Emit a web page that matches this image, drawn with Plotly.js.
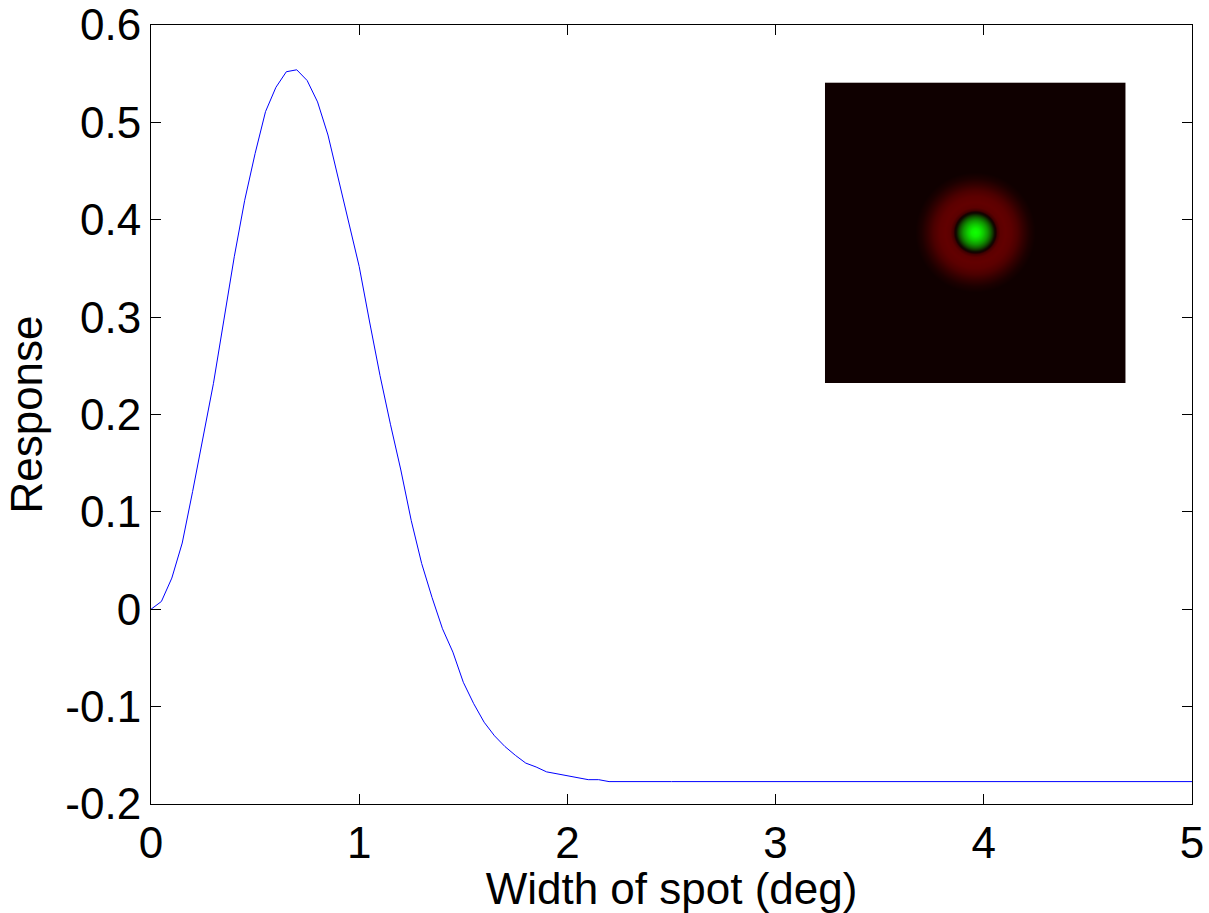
<!DOCTYPE html>
<html>
<head>
<meta charset="utf-8">
<script src="https://cdn.plot.ly/plotly-3.0.1.min.js"></script>
<style>
html,body{margin:0;padding:0;background:#fff;}
#chart{width:1209px;height:913px;}
</style>
</head>
<body>
<div id="chart"></div>
<script>
// ---- curve data ----
var spotWidth = [0, 0.05, 0.1, 0.15, 0.2, 0.25, 0.3, 0.35, 0.4, 0.45, 0.5, 0.55, 0.6, 0.65, 0.7, 0.75, 0.8, 0.85, 0.9, 0.95,
  1.0, 1.05, 1.1, 1.15, 1.2, 1.25, 1.3, 1.35, 1.4, 1.45, 1.5, 1.55, 1.6, 1.65, 1.7, 1.75, 1.8, 1.85, 1.9, 1.95,
  2.0, 2.05, 2.1, 2.15, 2.2, 2.5, 3.0, 3.5, 4.0, 4.5, 5.0];
var response = [0.000, 0.008, 0.032, 0.068, 0.121, 0.176, 0.232, 0.297, 0.362, 0.420, 0.468, 0.511, 0.536, 0.552, 0.554, 0.543, 0.521, 0.487, 0.443, 0.396,
  0.352, 0.295, 0.240, 0.190, 0.143, 0.091, 0.047, 0.012, -0.020, -0.044, -0.075, -0.097, -0.116, -0.130, -0.141, -0.150, -0.158, -0.162, -0.167, -0.169,
  -0.171, -0.173, -0.175, -0.175, -0.177, -0.177, -0.177, -0.177, -0.177, -0.177, -0.177];

// ---- tick labels ----
var xTickVals = [0, 1, 2, 3, 4, 5];
var xTickText = ["0", "1", "2", "3", "4", "5"];
var yTickVals = [-0.2, -0.1, 0, 0.1, 0.2, 0.3, 0.4, 0.5, 0.6];
var yTickText = ["-0.2", "-0.1", "0", "0.1", "0.2", "0.3", "0.4", "0.5", "0.6"];

// ---- inset stimulus: radial colour profile (radius in inset pixels) ----
var insetRadius = [0, 4, 8, 12, 15, 17, 19, 20.5, 22, 25, 30, 36, 42, 48, 54, 60];
var insetRed    = [0, 0, 0, 0, 0, 2, 8, 25, 65, 92, 98, 92, 75, 50, 28, 15];
var insetGreen  = [255, 240, 200, 150, 100, 60, 15, 0, 0, 0, 0, 0, 0, 0, 0, 0];
var insetBg = [15, 0, 0];
var insetSize = 301;

function profile(arr, r) {
  if (r >= insetRadius[insetRadius.length - 1]) return null;
  for (var i = 1; i < insetRadius.length; i++) {
    if (r <= insetRadius[i]) {
      var t = (r - insetRadius[i - 1]) / (insetRadius[i] - insetRadius[i - 1]);
      return arr[i - 1] + t * (arr[i] - arr[i - 1]);
    }
  }
  return null;
}
var c = (insetSize - 1) / 2;
var img = [];
for (var j = 0; j < insetSize; j++) {
  var row = [];
  for (var i = 0; i < insetSize; i++) {
    var r = Math.sqrt((i - c) * (i - c) + (j - c) * (j - c));
    var rv = profile(insetRed, r), gv = profile(insetGreen, r);
    if (rv === null) row.push(insetBg.slice());
    else row.push([Math.max(insetBg[0], Math.round(rv)), Math.round(gv), 0]);
  }
  img.push(row);
}

var font = "Liberation Sans, Arial, Helvetica, sans-serif";
var fs = 44;

var traces = [
  {
    type: "scatter", mode: "lines",
    x: spotWidth, y: response,
    line: {color: "#0000ff", width: 1},
    hoverinfo: "x+y", showlegend: false
  },
  {
    type: "image", z: img, xaxis: "x2", yaxis: "y2",
    hoverinfo: "skip"
  }
];

var W = 1209, H = 913;
var L = 150.5, R = 1192.5, T = 24.5, B = 804.5;
var pw = R - L, ph = B - T;

var layout = {
  width: W, height: H,
  margin: {l: L, r: W - R, t: T, b: H - B, pad: 0},
  paper_bgcolor: "#ffffff", plot_bgcolor: "#ffffff",
  showlegend: false,
  font: {family: font, color: "#000", size: fs},
  xaxis: {
    range: [0, 5], tickvals: xTickVals, ticktext: xTickText,
    ticks: "inside", ticklen: 10, tickwidth: 1, tickcolor: "#000",
    showline: true, linecolor: "#000", linewidth: 1, mirror: "ticks",
    showgrid: false, zeroline: false,
    tickfont: {family: font, size: fs, color: "#000"},
    title: {text: "Width of spot (deg)", font: {family: font, size: fs, color: "#000"}, standoff: 2}
  },
  yaxis: {
    range: [-0.2, 0.6], tickvals: yTickVals, ticktext: yTickText,
    ticks: "inside", ticklen: 10, tickwidth: 1, tickcolor: "#000",
    showline: true, linecolor: "#000", linewidth: 1, mirror: "ticks",
    showgrid: false, zeroline: false,
    tickfont: {family: font, size: fs, color: "#000"},
    title: {text: "Response", font: {family: font, size: fs, color: "#000"}, standoff: 8}
  },
  xaxis2: {
    domain: [(825 - L) / pw, (1126 - L) / pw],
    anchor: "y2", visible: false, range: [-0.5, insetSize - 0.5], fixedrange: true
  },
  yaxis2: {
    domain: [(B - 383) / ph, (B - 82) / ph],
    anchor: "x2", visible: false, range: [insetSize - 0.5, -0.5], fixedrange: true
  }
};

Plotly.newPlot("chart", traces, layout, {displayModeBar: false, staticPlot: true});
</script>
</body>
</html>
